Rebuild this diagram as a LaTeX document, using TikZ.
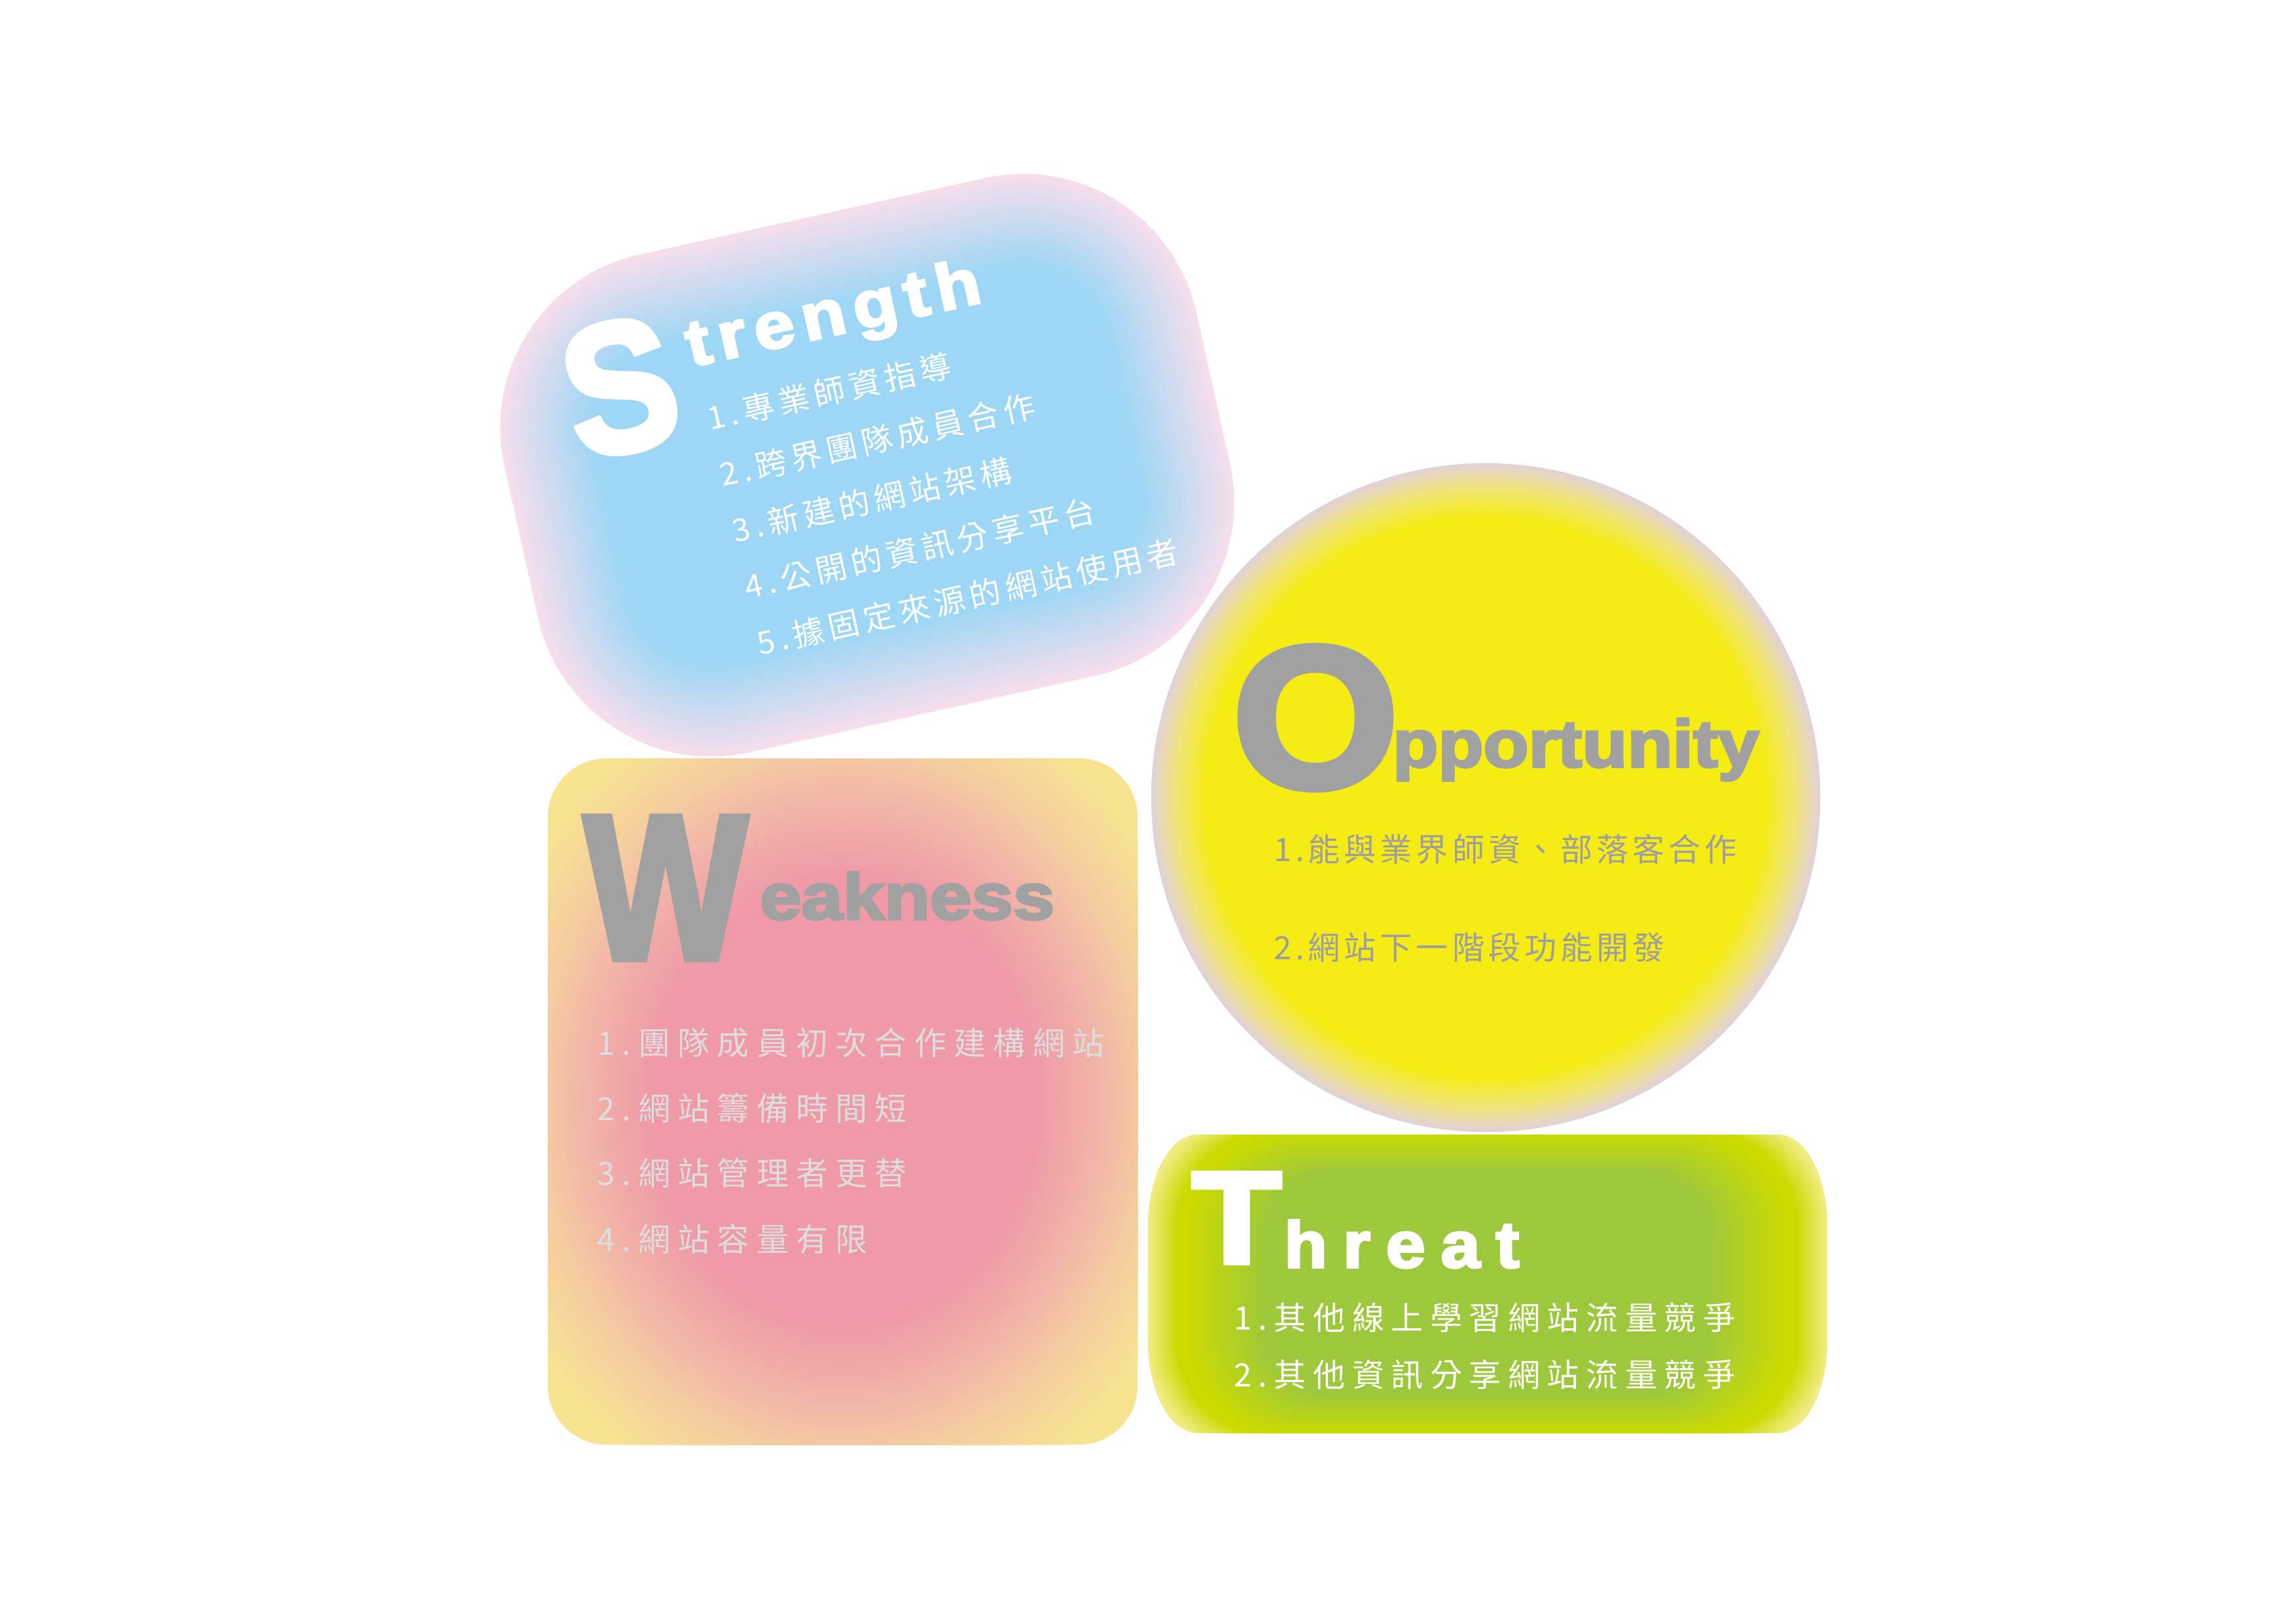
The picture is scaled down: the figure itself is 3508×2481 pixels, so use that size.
\documentclass[tikz,border=0pt]{standalone}
\usepackage{fontspec}
\usepackage{graphicx}
\setmainfont{Liberation Sans}
\newfontfamily\cjk{Noto Sans CJK TC}
\newfontfamily\heavy{Liberation Sans}[FakeBold=3.5]
\makeatletter
\newcommand\spaced[2]{\@tfor\spc@t:=#2\do{\spc@t\kern#1\relax}\unkern}
\makeatother
\newcommand\hv[1]{\heavy\bfseries\fontsize{#1}{#1}\selectfont}
\newcommand\cj[1]{\cjk\fontsize{#1}{#1}\selectfont}
% elliptical glow segment: cx cy hx hy rho-start rho-end colA colB steps
\newcommand\eseg[9]{%
  \foreach \k in {0,...,#9}{%
    \pgfmathsetmacro\er{#5+(#6-#5)*\k/#9}%
    \pgfmathsetmacro\et{100*\k/#9}%
    \fill[#8!\et!#7] (#1,#2) ellipse[x radius={\er*#3}, y radius={\er*#4}];
  }}
\definecolor{sblue}{RGB}{157,215,245}
\definecolor{spink}{RGB}{246,222,236}
\definecolor{oyel}{RGB}{245,236,20}
\definecolor{opale}{RGB}{240,228,120}
\definecolor{omauve}{RGB}{226,210,214}
\definecolor{wpink}{RGB}{239,154,166}
\definecolor{wmid}{RGB}{241,178,168}
\definecolor{wpeach}{RGB}{244,204,160}
\definecolor{wyel}{RGB}{247,228,144}
\definecolor{tgreen}{RGB}{157,200,60}
\definecolor{tlime}{RGB}{203,219,0}
\definecolor{tpale}{RGB}{240,236,130}
\definecolor{hgray}{RGB}{160,161,160}
\definecolor{wtext}{RGB}{221,221,221}
\definecolor{otext}{RGB}{158,158,162}
\tikzset{
  lbl/.style={inner sep=0pt, outer sep=0pt},
  lw/.style={lbl, anchor=base west},
}
\begin{document}
\begin{tikzpicture}[x=0.01cm,y=-0.01cm]
\useasboundingbox (0,0) rectangle (3508,2481);
\fill[white] (0,0) rectangle (3508,2481);

% Weakness box
\begin{scope}
\clip[rounded corners=0.9cm] (837,1159) rectangle (1738,2208);
\fill[wyel] (837,1159) rectangle (1738,2208);
\eseg{1287.5}{1683.5}{450.5}{524.5}{1.27}{1.04}{wyel}{wpeach}{16}
\eseg{1287.5}{1683.5}{450.5}{524.5}{1.04}{0.86}{wpeach}{wmid}{14}
\eseg{1287.5}{1683.5}{450.5}{524.5}{0.86}{0.66}{wmid}{wpink}{14}
\end{scope}

% Threat box
\begin{scope}
\clip (1829,1734) -- (2717,1734) .. controls (2758.4,1734) and (2792,1796.7) .. (2792,1874)
  -- (2792,2050) .. controls (2792,2127.3) and (2758.4,2190) .. (2717,2190)
  -- (1829,2190) .. controls (1787.6,2190) and (1754,2127.3) .. (1754,2050)
  -- (1754,1874) .. controls (1754,1796.7) and (1787.6,1734) .. (1829,1734) -- cycle;
\fill[tpale] (1754,1734) rectangle (2792,2190);
\foreach \k in {0,...,12}{
  \pgfmathsetmacro\tx{519-44*\k/12}
  \pgfmathsetmacro\ty{262-27*\k/12}
  \pgfmathsetmacro\tr{(165-15*\k/12)*0.01}
  \pgfmathsetmacro\tc{100*\k/12}
  \fill[tlime!\tc!tpale, rounded corners=\tr cm] ({2273-\tx},{1962-\ty}) rectangle ({2273+\tx},{1962+\ty});
}
\foreach \k in {0,...,20}{
  \pgfmathsetmacro\tx{460-120*\k/20}
  \pgfmathsetmacro\ty{232-62*\k/20}
  \pgfmathsetmacro\tr{(150-50*\k/20)*0.01}
  \pgfmathsetmacro\tc{100*\k/20}
  \fill[tgreen!\tc!tlime, rounded corners=\tr cm] ({2273-\tx},{1962-\ty}) rectangle ({2273+\tx},{1962+\ty});
}
\end{scope}

% Opportunity circle
\fill[omauve] (2270,1219) circle[radius=511];
\eseg{2270}{1219}{511}{511}{1.0}{0.93}{omauve}{opale}{10}
\eseg{2270}{1219}{511}{511}{0.93}{0.84}{opale}{oyel}{12}

% Strength shape
\begin{scope}[shift={(1325,711)}, rotate=12.5]
\foreach \i in {0,...,35}{
  \pgfmathsetmacro\gd{\i*4}
  \pgfmathsetmacro\gt{\i/35*100}
  \pgfmathsetmacro\gr{(271-\gd)*0.01}
  \fill[sblue!\gt!spink, rounded corners=\gr cm] ({-541.5+\gd},{-389.5+\gd}) rectangle ({541.5-\gd},{389.5-\gd});
}
\node[lbl, transform shape, text=white] (S) at (-343,-198) {\hv{80pt}\scalebox{0.9}[1]{S}};
\node[lw, transform shape, text=white] (str) at (-230,-205) {\hv{28.45pt}\scalebox{1.1}[1]{\spaced{3.4pt}{trength}}};
\node[lw, transform shape, text=white] (s1) at (-222,-104) {\cj{13.66pt}\spaced{2.1pt}{1.專業師資指導}};
\node[lw, transform shape, text=white] (s2) at (-222,-16) {\cj{13.66pt}\spaced{2.1pt}{2.跨界團隊成員合作}};
\node[lw, transform shape, text=white] (s3) at (-222,72) {\cj{13.66pt}\spaced{2.1pt}{3.新建的網站架構}};
\node[lw, transform shape, text=white] (s4) at (-222,160) {\cj{13.66pt}\spaced{2.1pt}{4.公開的資訊分享平台}};
\node[lw, transform shape, text=white] (s5) at (-222,248) {\cj{13.66pt}\spaced{2.1pt}{5.據固定來源的網站使用者}};
\end{scope}

% Weakness texts
\node[lbl, text=hgray] (W) at (1017,1357) {\hv{89.3pt}\scalebox{0.84}[1]{W}};
\node[lw, text=hgray] (wk) at (1161,1405) {\hv{28.45pt}\scalebox{1.14}[1]{eakness}};
\node[lw, text=wtext] (w1) at (912,1612) {\cj{13.94pt}\spaced{3.2pt}{1.團隊成員初次合作建構網站}};
\node[lw, text=wtext] (w2) at (912,1712) {\cj{13.94pt}\spaced{3.2pt}{2.網站籌備時間短}};
\node[lw, text=wtext] (w3) at (912,1811) {\cj{13.94pt}\spaced{3.2pt}{3.網站管理者更替}};
\node[lw, text=wtext] (w4) at (912,1912) {\cj{13.94pt}\spaced{3.2pt}{4.網站容量有限}};

% Opportunity texts
\node[lbl, text=hgray] (O) at (2010,1097) {\hv{87.6pt}\scalebox{1.06}[1]{O}};
\node[lw, text=hgray] (op) at (2128,1172) {\hv{29pt}\scalebox{1.11}[1]{pportunity}};
\node[lw, text=otext] (o1) at (1946,1316) {\cj{13.94pt}\spaced{1.71pt}{1.能與業界師資、部落客合作}};
\node[lw, text=otext] (o2) at (1946,1466) {\cj{13.94pt}\spaced{1.71pt}{2.網站下一階段功能開發}};

% Threat texts
\node[lbl, text=white] (T) at (1889.5,1861.5) {\hv{56.9pt}\scalebox{1.12}[1]{T}};
\node[lw, text=white] (th) at (1962,1937) {\hv{28.45pt}\scalebox{1.08}[1]{\spaced{6.26pt}{hreat}}};
\node[lw, text=white] (t1) at (1885,2032) {\cj{13.94pt}\spaced{3pt}{1.其他線上學習網站流量競爭}};
\node[lw, text=white] (t2) at (1885,2119) {\cj{13.94pt}\spaced{3pt}{2.其他資訊分享網站流量競爭}};
\end{tikzpicture}
\end{document}
